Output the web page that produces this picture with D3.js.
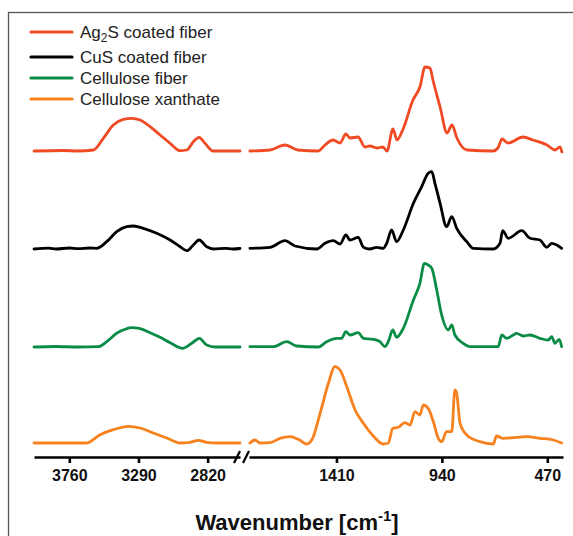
<!DOCTYPE html>
<html>
<head>
<meta charset="utf-8">
<script src="https://cdn.jsdelivr.net/npm/d3@7"></script>
<style>
  body { margin: 0; background: #fff; }
  svg { font-family: "Liberation Sans", Arial, sans-serif; }
</style>
</head>
<body>
<div id="chart-area"></div>
<script>
// spectra: [wavenumber, relative intensity]
const ag2sData = [
  [4000, 0], [3800, 0.5], [3700, 0], [3597, 1], [3529, 12.7], [3461, 26], [3393, 31.7], [3336, 32.7],
  [3279, 31], [3211, 24.3], [3143, 16], [3075, 7.7], [3007, 0.3], [2962, 1], [2917, 9.3],
  [2878, 13.7], [2838, 7.7], [2781, 0], [2700, 0], [2600, 0],
  [1796, 0], [1706, 1], [1640, 6], [1582, 1], [1492, 0], [1461, 6], [1425, 11], [1394, 8],
  [1368, 17], [1350, 13], [1314, 14], [1283, 4], [1261, 5], [1229, 3], [1203, 4], [1185, 0],
  [1158, 22], [1140, 11], [1113, 22], [1069, 51], [1038, 64], [1015, 84], [993, 83], [980, 71],
  [948, 44], [917, 18], [895, 26], [873, 13], [828, 1], [712, 0], [690, 3], [672, 12],
  [645, 8], [578, 14], [534, 11], [471, 6], [436, 1], [413, 4], [405, -1]
]

const cusData = [
  [4000, 0], [3900, 0.8], [3850, 0], [3760, 1], [3700, 0.3], [3620, 1], [3574, 0.7], [3506, 7.3],
  [3438, 17.3], [3370, 22.3], [3325, 23], [3257, 20.7], [3166, 15.7], [3075, 9], [3007, 2.3],
  [2962, -1.7], [2917, 4], [2878, 9], [2826, 2.3], [2781, 0], [2700, 0.6], [2650, 0], [2600, 0.5],
  [1796, 0.7], [1706, 1.7], [1640, 8.3], [1595, 3], [1498, 0], [1461, 5.7], [1424, 8.3],
  [1394, 5], [1368, 14], [1350, 9], [1313, 11.7], [1290, 1.7], [1261, 0], [1231, 1.7],
  [1201, 0.7], [1186, 5.7], [1164, 19], [1142, 7.3], [1112, 19], [1067, 45.7], [1030, 62.3],
  [1001, 75.7], [985, 77.3], [971, 65.7], [948, 45.7], [919, 22.3], [896, 32.3], [874, 20.7],
  [829, 7.3], [800, 0.7], [711, 0], [681, 5.7], [669, 18.3], [644, 10.7], [584, 18.3],
  [547, 10.7], [503, 9], [473, 1.7], [450, 5.7], [428, 4], [406, 0.7]
]

const celluloseData = [
  [4000, 0], [3850, 0.5], [3700, 0], [3563, 0.3], [3506, 5.3], [3438, 13.7], [3381, 17.7],
  [3336, 19.3], [3279, 18.3], [3211, 14.3], [3143, 9.7], [3075, 4.3], [2990, -1.3],
  [2928, 3.7], [2876, 8.7], [2826, 2], [2769, 0], [2600, 0],
  [1796, 0.3], [1692, 0.3], [1632, 5.3], [1587, 1], [1491, 0], [1454, 5.3], [1409, 8.7],
  [1387, 8.7], [1368, 15.3], [1350, 12], [1313, 14.3], [1290, 8.7], [1246, 7.7], [1216, 5.3],
  [1194, 0.3], [1179, 5.3], [1159, 17], [1142, 9.7], [1112, 18.7], [1067, 47], [1038, 63.7],
  [1018, 83.7], [1001, 82], [985, 78.7], [963, 57], [941, 32], [911, 17], [896, 22], [882, 12],
  [845, 3.7], [815, 0.3], [711, 0.3], [689, 0.3], [673, 12], [651, 8.7], [622, 12], [607, 13.7],
  [577, 11], [547, 12], [503, 8.7], [466, 7], [450, 10.3], [436, 3.7], [417, 7.7], [406, 0.3]
]

const xanthateData = [
  [4000, 0], [3642, 0], [3551, 8.3], [3461, 13.3], [3359, 16.7], [3279, 15], [3189, 10],
  [3098, 5], [3007, 0], [2940, 0.7], [2883, 2.7], [2826, 0.7], [2758, 0], [2600, 0],
  [1796, 0], [1773, 3], [1751, 0], [1706, 0.3], [1662, 4.7], [1617, 6.3], [1580, 3.7],
  [1543, -1], [1520, 3], [1483, 29.7], [1446, 59.7], [1417, 76.3], [1394, 73], [1364, 56.3],
  [1327, 33], [1290, 19.7], [1246, 7], [1201, -1], [1179, 0], [1159, 14.7], [1134, 15.7],
  [1105, 20.3], [1082, 18], [1060, 31.3], [1038, 28], [1023, 38], [1001, 34.7], [978, 21.3],
  [956, 4.7], [941, 1.3], [919, 11.3], [896, 11.3], [882, 53], [874, 49.7], [859, 19.7],
  [829, 8], [770, 1.3], [711, -1], [696, 7], [666, 4.7], [607, 5.7], [562, 6.3], [503, 4.7],
  [443, 3], [406, 0]
]

const seriesNames = ["Ag\u2082S coated fiber", "CuS coated fiber", "Cellulose fiber", "Cellulose xanthate"]
const seriesColors = ["#f04a24", "#000000", "#0a8c46", "#f5821f"]
const seriesOffsets = [305, 207, 109, 13]
const leftTicks = [3760, 3290, 2820]
const rightTicks = [1410, 940, 470]

const WIDTH = 573
const HEIGHT = 536
const AXIS_Y = 457

const svg = d3.select("#chart-area").append("svg")
  .attr("width", WIDTH)
  .attr("height", HEIGHT)

// frame (cropped at right and bottom)
svg.append("rect")
  .attr("x", 8.5).attr("y", 12.5)
  .attr("width", 700).attr("height", 700)
  .attr("fill", "none")
  .attr("stroke", "#555")
  .attr("stroke-width", 1.3)

// two x scales for the broken axis
const xLeft = d3.scaleLinear().domain([4000, 2600]).range([34, 240])
const xRight = d3.scaleLinear().domain([1800, 400]).range([249, 563])

const y = d3.scaleLinear().domain([0, 400]).range([AXIS_Y - 1, AXIS_Y - 401])

const series = [ag2sData, cusData, celluloseData, xanthateData]

series.forEach((data, i) => {
  const left = data.filter(d => d[0] > 2000)
  const right = data.filter(d => d[0] < 2000)
  const off = seriesOffsets[i]

  const lineL = d3.line()
    .x(d => xLeft(d[0]))
    .y(d => y(d[1] + off))
    .curve(d3.curveMonotoneX)
  const lineR = d3.line()
    .x(d => xRight(d[0]))
    .y(d => y(d[1] + off))
    .curve(d3.curveMonotoneX)

  ;[[left, lineL], [right, lineR]].forEach(([pts, ln]) => {
    svg.append("path")
      .datum(pts)
      .attr("d", ln)
      .attr("fill", "none")
      .attr("stroke", seriesColors[i])
      .attr("stroke-width", 2.8)
      .attr("stroke-linejoin", "round")
      .attr("stroke-linecap", "round")
  })
})

// axes
const axisL = d3.axisBottom(xLeft).tickValues(leftTicks).tickFormat(d3.format("d")).tickSize(6).tickSizeOuter(0)
const axisR = d3.axisBottom(xRight).tickValues(rightTicks).tickFormat(d3.format("d")).tickSize(6).tickSizeOuter(0)

;[axisL, axisR].forEach(ax => {
  const g = svg.append("g")
    .attr("transform", `translate(0, ${AXIS_Y})`)
    .call(ax)
  g.select(".domain").attr("stroke", "#000").attr("stroke-width", 2.6)
  g.selectAll(".tick line").attr("stroke", "#000").attr("stroke-width", 2.6)
  g.selectAll(".tick text")
    .attr("y", 13)
    .attr("fill", "#111")
    .attr("font-size", "16px")
    .attr("font-weight", "bold")
    .attr("font-family", "Liberation Sans, Arial, sans-serif")
})

// axis break marks
const brk = svg.append("g").attr("stroke", "#000").attr("stroke-width", 2.2)
;[237, 246].forEach(bx => {
  brk.append("line")
    .attr("x1", bx - 3).attr("y1", AXIS_Y + 6)
    .attr("x2", bx + 3).attr("y2", AXIS_Y - 6)
})

// x label
const xl = svg.append("text")
  .attr("x", 297)
  .attr("y", 530)
  .attr("text-anchor", "middle")
  .attr("font-size", "22px")
  .attr("font-weight", "bold")
  .attr("fill", "#111")
xl.append("tspan").text("Wavenumber [cm")
xl.append("tspan").attr("dy", -9).attr("font-size", "15px").text("-1")
xl.append("tspan").attr("dy", 9).text("]")

// legend
const legendY = [32, 57, 78, 99]
const legend = svg.append("g")
seriesNames.forEach((name, i) => {
  legend.append("line")
    .attr("x1", 31).attr("x2", 72)
    .attr("y1", legendY[i]).attr("y2", legendY[i])
    .attr("stroke", seriesColors[i])
    .attr("stroke-width", 3.2)
    .attr("stroke-linecap", "round")
  const t = legend.append("text")
    .attr("x", 80)
    .attr("y", legendY[i] + 6)
    .attr("font-size", "17px")
    .attr("fill", "#222")
  if (i === 0) {
    t.append("tspan").text("Ag")
    t.append("tspan").attr("dy", 4).attr("font-size", "12px").text("2")
    t.append("tspan").attr("dy", -4).text("S coated fiber")
  } else {
    t.text(name)
  }
})
</script>
</body>
</html>
